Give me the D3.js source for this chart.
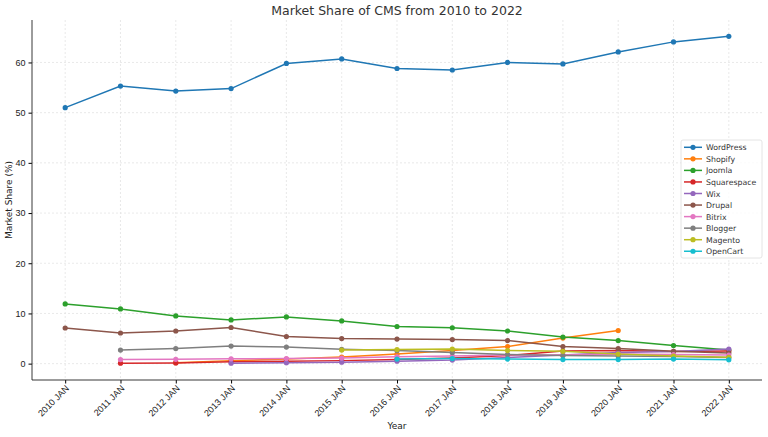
<!DOCTYPE html>
<html lang="en">
<head>
<meta charset="UTF-8">
<title>Market Share of CMS from 2010 to 2022</title>
<script src="https://cdnjs.cloudflare.com/ajax/libs/d3/7.8.5/d3.min.js"></script>
<style>
  body { margin: 0; background: #fff; }
  svg { font-family: "DejaVu Sans", sans-serif; }
  .grid line { stroke: #e3e3e3; stroke-dasharray: 2,2; stroke-width: 0.8; }
</style>
</head>
<body>
<svg width="768" height="437"></svg>
<script>
// ---- data ----
var years = ["2010 JAN", "2011 JAN", "2012 JAN", "2013 JAN", "2014 JAN", "2015 JAN", "2016 JAN",
             "2017 JAN", "2018 JAN", "2019 JAN", "2020 JAN", "2021 JAN", "2022 JAN"];
var cmsNames = ["WordPress", "Shopify", "Joomla", "Squarespace", "Wix", "Drupal", "Bitrix", "Blogger", "Magento", "OpenCart"];
var colors = ["#1f77b4", "#ff7f0e", "#2ca02c", "#d62728", "#9467bd", "#8c564b", "#e377c2", "#7f7f7f", "#bcbd22", "#17becf"];

var wordpress   = [51.0, 55.3, 54.3, 54.8, 59.8, 60.7, 58.8, 58.5, 60.0, 59.7, 62.1, 64.1, 65.2];
var shopify     = [null, null, 0.2, 0.6, 0.9, 1.3, 1.9, 2.6, 3.4, 5.1, 6.6, null, null];
var joomla      = [11.9, 10.9, 9.5, 8.7, 9.3, 8.5, 7.4, 7.15, 6.5, 5.3, 4.6, 3.6, 2.7];
var squarespace = [null, 0.1, 0.15, 0.4, 0.5, 0.6, 0.8, 1.1, 1.6, 2.5, 2.6, 2.4, 2.5];
var wix         = [null, null, null, 0.1, 0.2, 0.3, 0.5, 0.7, 1.2, 1.7, 2.2, 2.4, 2.9];
var drupal      = [7.1, 6.1, 6.5, 7.2, 5.4, 5.0, 4.9, 4.8, 4.6, 3.4, 3.0, 2.45, 2.1];
var bitrix      = [null, 0.8, 0.85, 0.95, 1.0, 1.1, 1.35, 1.5, 1.7, 1.7, 1.9, 1.8, 1.7];
var blogger     = [null, 2.7, 3.0, 3.5, 3.3, 2.85, 2.6, 2.2, 1.8, 1.6, 1.5, 1.4, 1.2];
var magento     = [null, null, null, null, null, 2.7, 2.8, 2.9, 2.6, 2.45, 1.9, 1.5, 1.25];
var opencart    = [null, null, null, null, null, null, 0.9, 1.0, 0.9, 0.8, 0.8, 0.9, 0.75];

var yTicks = [0, 10, 20, 30, 40, 50, 60];

var allSeries = [wordpress, shopify, joomla, squarespace, wix, drupal, bitrix, blogger, magento, opencart];

// ---- layout ----
var svg = d3.select("svg");
var padL = 32, padR = 762, padT = 20, padB = 380;

var x = d3.scaleLinear().domain([-0.6, years.length - 1 + 0.6]).range([padL, padR]);
var y = d3.scaleLinear().domain([-3.26, 68.46]).range([padB, padT]);

// grid
svg.append("g").attr("class", "grid")
  .selectAll("line").data(years).enter().append("line")
  .attr("x1", (d, i) => x(i)).attr("x2", (d, i) => x(i))
  .attr("y1", padT).attr("y2", padB);
svg.append("g").attr("class", "grid")
  .selectAll("line").data(yTicks).enter().append("line")
  .attr("x1", padL).attr("x2", padR)
  .attr("y1", d => y(d)).attr("y2", d => y(d));

// axes
var xAxis = d3.axisBottom(x).tickValues(d3.range(years.length)).tickFormat(i => years[i]).tickSize(3.5);
var xg = svg.append("g").attr("transform", "translate(0," + padB + ")").call(xAxis);
xg.select(".domain").remove();
xg.selectAll("text")
  .attr("font-size", 9).attr("fill", "#222")
  .attr("text-anchor", "end")
  .attr("dy", null).attr("y", 0).attr("x", 0)
  .attr("transform", "translate(4,9) rotate(-45)");

var yAxis = d3.axisLeft(y).tickValues(yTicks).tickSize(3.5).tickPadding(3);
var yg = svg.append("g").attr("transform", "translate(" + padL + ",0)").call(yAxis);
yg.select(".domain").remove();
yg.selectAll("text").attr("font-size", 9).attr("fill", "#222");

// spines
svg.append("line").attr("x1", padL).attr("x2", padL).attr("y1", padT).attr("y2", padB).attr("stroke", "#222").attr("stroke-width", 0.9);
svg.append("line").attr("x1", padL).attr("x2", padR).attr("y1", padB).attr("y2", padB).attr("stroke", "#222").attr("stroke-width", 0.9);

// lines
var line = d3.line()
  .defined(d => d != null)
  .x((d, i) => x(i))
  .y(d => y(d));

allSeries.forEach(function (vals, k) {
  svg.append("path")
    .datum(vals)
    .attr("d", line)
    .attr("fill", "none")
    .attr("stroke", colors[k])
    .attr("stroke-width", 1.5);
  svg.append("g").selectAll("circle")
    .data(vals.map((v, i) => ({ v: v, i: i })).filter(p => p.v != null))
    .enter().append("circle")
    .attr("cx", p => x(p.i))
    .attr("cy", p => y(p.v))
    .attr("r", 2.6)
    .attr("fill", colors[k]);
});

// titles
svg.append("text").attr("x", (padL + padR) / 2).attr("y", 15)
  .attr("text-anchor", "middle").attr("font-size", 12.5).attr("fill", "#333")
  .text("Market Share of CMS from 2010 to 2022");
svg.append("text").attr("x", (padL + padR) / 2).attr("y", 429)
  .attr("text-anchor", "middle").attr("font-size", 9).attr("fill", "#222")
  .text("Year");
svg.append("text").attr("transform", "translate(12," + ((padT + padB) / 2) + ") rotate(-90)")
  .attr("text-anchor", "middle").attr("font-size", 9).attr("fill", "#222")
  .text("Market Share (%)");

// legend
var lg = svg.append("g").attr("transform", "translate(681,140)");
lg.append("rect").attr("width", 81).attr("height", 118).attr("rx", 2)
  .attr("fill", "#fff").attr("fill-opacity", 0.8).attr("stroke", "#ddd").attr("stroke-width", 0.8);
cmsNames.forEach(function (name, k) {
  var yy = 7.3 + k * 11.55;
  lg.append("line").attr("x1", 3).attr("x2", 21).attr("y1", yy).attr("y2", yy)
    .attr("stroke", colors[k]).attr("stroke-width", 1.5);
  lg.append("circle").attr("cx", 12).attr("cy", yy).attr("r", 2.6).attr("fill", colors[k]);
  lg.append("text").attr("x", 25).attr("y", yy + 3).attr("font-size", 7.8).attr("fill", "#333").text(name);
});
</script>
</body>
</html>
